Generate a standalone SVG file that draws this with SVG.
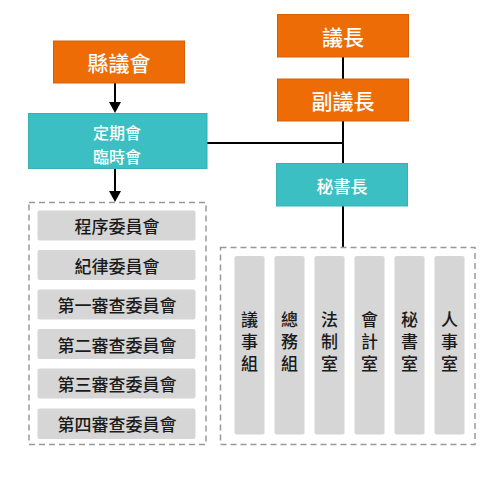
<svg xmlns="http://www.w3.org/2000/svg" width="500" height="500" viewBox="0 0 500 500">
<defs>
<marker id="arr" markerUnits="userSpaceOnUse" markerWidth="12" markerHeight="12" viewBox="0 0 12 12" refX="0" refY="6" orient="auto">
<path d="M0,0 L11,6 L0,12 z" fill="#000"/>
</marker>
<style>
.org{fill:#EE6C05;stroke:#D5600A;stroke-width:1}
.teal{fill:#3BBFC2;stroke:#36B1B4;stroke-width:1}
.gray{fill:#D6D6D6}
.dash{fill:#FFFFFF;stroke:#999999;stroke-width:1.5;stroke-dasharray:6 4}
.t{font-family:"Noto Sans CJK TC","Noto Sans CJK SC",sans-serif;text-anchor:middle;dominant-baseline:central;font-weight:500}
.v{font-family:"Noto Sans CJK TC","Noto Sans CJK SC",sans-serif;text-anchor:middle;font-weight:500;writing-mode:vertical-rl;letter-spacing:5px;fill:#1a1a1a;font-size:17px}
.w21{fill:#fff;font-size:21px}
.w17{fill:#fff;font-size:17px}
.w16{fill:#fff;font-size:16px}
.d17{fill:#1a1a1a;font-size:17px}
.conn{stroke:#000;stroke-width:2;fill:none}
</style>
</defs>
<rect width="500" height="500" fill="#fff"/>
<g id="connectors">
<line class="conn" x1="343" y1="57" x2="343" y2="248"/>
<line class="conn" x1="207" y1="143" x2="343" y2="143"/>
<line class="conn" x1="115" y1="83" x2="115" y2="102" marker-end="url(#arr)"/>
<line class="conn" x1="115" y1="168" x2="115" y2="191" marker-end="url(#arr)"/>
</g>
<g id="county-council">
<rect class="org" x="53.5" y="41" width="131" height="42"/>
<text class="t w21" x="119" y="62">縣議會</text>
</g>
<g id="speaker">
<rect class="org" x="277.5" y="14.5" width="131" height="42.5"/>
<text class="t w21" x="343" y="36">議長</text>
</g>
<g id="deputy-speaker">
<rect class="org" x="277.5" y="79" width="131" height="42"/>
<text class="t w21" x="343" y="100">副議長</text>
</g>
<g id="sessions">
<rect class="teal" x="28.5" y="113.5" width="178.5" height="55"/>
<text class="t w16" x="117" y="131.5">定期會</text>
<text class="t w16" x="117" y="155.5">臨時會</text>
</g>
<g id="secretary-general">
<rect class="teal" x="276.5" y="163.5" width="131" height="42.5"/>
<text class="t w17" x="342" y="185">秘書長</text>
</g>
<g id="committees">
<rect class="dash" x="29" y="202.5" width="177" height="242"/>
<g id="c1"><rect class="gray" x="37.5" y="210.5" width="158" height="30" rx="2"/><text class="t d17" x="117" y="225.5">程序委員會</text></g>
<g id="c2"><rect class="gray" x="37.5" y="250" width="158" height="30" rx="2"/><text class="t d17" x="117" y="265">紀律委員會</text></g>
<g id="c3"><rect class="gray" x="37.5" y="289.5" width="158" height="30" rx="2"/><text class="t d17" x="117" y="304.5">第一審查委員會</text></g>
<g id="c4"><rect class="gray" x="37.5" y="329" width="158" height="30" rx="2"/><text class="t d17" x="117" y="344">第二審查委員會</text></g>
<g id="c5"><rect class="gray" x="37.5" y="368.5" width="158" height="30" rx="2"/><text class="t d17" x="117" y="383.5">第三審查委員會</text></g>
<g id="c6"><rect class="gray" x="37.5" y="408.5" width="158" height="30.5" rx="2"/><text class="t d17" x="117" y="423.5">第四審查委員會</text></g>
</g>
<g id="offices">
<rect class="dash" x="220.5" y="247.5" width="254.5" height="197"/>
<g id="o1"><rect class="gray" x="234.5" y="256" width="30" height="178.5" rx="2"/><text class="v" x="249.5" y="344">議事組</text></g>
<g id="o2"><rect class="gray" x="274.5" y="256" width="30" height="178.5" rx="2"/><text class="v" x="289.5" y="344">總務組</text></g>
<g id="o3"><rect class="gray" x="314.5" y="256" width="30" height="178.5" rx="2"/><text class="v" x="329.5" y="344">法制室</text></g>
<g id="o4"><rect class="gray" x="354.5" y="256" width="30" height="178.5" rx="2"/><text class="v" x="369.5" y="344">會計室</text></g>
<g id="o5"><rect class="gray" x="394.5" y="256" width="30" height="178.5" rx="2"/><text class="v" x="409.5" y="344">秘書室</text></g>
<g id="o6"><rect class="gray" x="434.5" y="256" width="30" height="178.5" rx="2"/><text class="v" x="449.5" y="344">人事室</text></g>
</g>
</svg>
